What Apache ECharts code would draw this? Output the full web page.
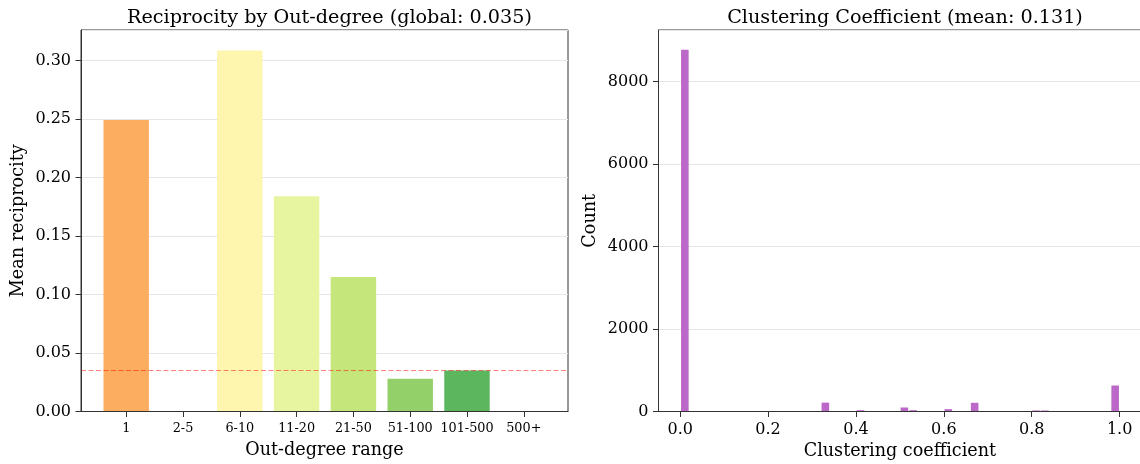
<!DOCTYPE html>
<html>
<head>
<meta charset="utf-8">
<script src="https://cdn.jsdelivr.net/npm/echarts@6/dist/echarts.min.js"></script>
<style>
  html, body { margin: 0; padding: 0; background: #fff; }
  #chart { width: 1140px; height: 464px; }
</style>
</head>
<body>
<div id="chart"></div>
<script>
// left panel: reciprocity per out-degree bucket
const degreeRanges = ['1', '2-5', '6-10', '11-20', '21-50', '51-100', '101-500', '500+']
const meanReciprocity = [0.249, 0, 0.3085, 0.184, 0.115, 0.028, 0.035, 0]
const rangeColors = ['#fdad60', '#fed384', '#fef5ae', '#e8f5a0', '#c4e67b', '#94d06a', '#5cb65e', '#2f9a52']
const globalReciprocity = 0.035

// right panel: histogram of clustering coefficient, 50 bins on [0, 1]
const binWidth = 0.02
const clusteringCounts = [
  8770, 6, 0, 0, 0, 0, 0, 0, 4, 5,
  4, 0, 0, 0, 0, 6, 215, 0, 0, 0,
  32, 3, 4, 5, 4, 97, 32, 0, 8, 4,
  57, 3, 0, 211, 10, 0, 0, 0, 0, 0,
  25, 25, 0, 0, 0, 0, 0, 0, 0, 630
]
const meanClustering = 0.131

const histData = clusteringCounts.map((c, i) => [i * binWidth, (i + 1) * binWidth, c])

const font = 'DejaVu Serif'
const spine = '#333'
const gridLine = '#e6e6e6'
const tickFont = 16
const nameFont = 17.6

const chart = echarts.init(document.getElementById('chart'))

const option = {
  animation: false,
  textStyle: { fontFamily: font, color: '#000' },
  title: [
    {
      text: 'Reciprocity by Out-degree (global: ' + globalReciprocity.toFixed(3) + ')',
      left: 324.5, top: 4, textAlign: 'center',
      textStyle: { fontFamily: font, fontSize: 19.2, fontWeight: 'normal', color: '#000' }
    },
    {
      text: 'Clustering Coefficient (mean: ' + meanClustering.toFixed(3) + ')',
      left: 900, top: 4, textAlign: 'center',
      textStyle: { fontFamily: font, fontSize: 19.2, fontWeight: 'normal', color: '#000' }
    }
  ],
  grid: [
    // 0: left frame
    { left: 81, top: 30, width: 487, height: 381.5, show: true, borderColor: spine, borderWidth: 1, outerBoundsMode: 'none' },
    // 1: left bars (bands line up with the frame's margins)
    { left: 97.8, top: 30, width: 454.4, height: 381.5, outerBoundsMode: 'none' },
    // 2: right frame
    { left: 658.5, top: 30, width: 483, height: 381.5, show: true, borderColor: spine, borderWidth: 1, outerBoundsMode: 'none' },
    // 3: right x ticks, spanning 0..1
    { left: 680.2, top: 30, width: 439.4, height: 381.5, outerBoundsMode: 'none' }
  ],
  xAxis: [
    {
      gridIndex: 0, type: 'value', min: 0, max: 1, z: 5,
      axisLine: { show: true, onZero: false, lineStyle: { color: spine, width: 1 } },
      axisTick: { show: false }, axisLabel: { show: false }, splitLine: { show: false },
      name: 'Out-degree range', nameLocation: 'middle', nameGap: 30,
      nameTextStyle: { fontFamily: font, fontSize: nameFont, color: '#000' }
    },
    {
      gridIndex: 1, type: 'category', data: degreeRanges, z: 5,
      axisLine: { show: false },
      axisTick: { show: true, alignWithLabel: true, interval: 0, length: 5.5, lineStyle: { color: spine } },
      axisLabel: { fontFamily: font, fontSize: 12.8, color: '#000', margin: 11, interval: 0 }
    },
    {
      gridIndex: 2, type: 'value', min: -0.05, max: 1.05, z: 5,
      axisLine: { show: true, onZero: false, lineStyle: { color: spine, width: 1 } },
      axisTick: { show: false }, axisLabel: { show: false }, splitLine: { show: false }
    },
    {
      gridIndex: 3, type: 'value', min: 0, max: 1, interval: 0.2, z: 5,
      axisLine: { show: false },
      axisTick: { show: true, length: 5.5, lineStyle: { color: spine } },
      axisLabel: { fontFamily: font, fontSize: tickFont, color: '#000', margin: 10, formatter: v => v.toFixed(1) },
      splitLine: { show: false },
      name: 'Clustering coefficient', nameLocation: 'middle', nameGap: 30,
      nameTextStyle: { fontFamily: font, fontSize: nameFont, color: '#000' }
    }
  ],
  yAxis: [
    {
      gridIndex: 0, type: 'value', min: 0, max: 0.326, interval: 0.05,
      axisLine: { show: true, onZero: false, lineStyle: { color: spine, width: 1 } },
      axisTick: { show: true, length: 5.5, lineStyle: { color: spine } },
      axisLabel: { fontFamily: font, fontSize: tickFont, color: '#000', margin: 10, showMaxLabel: false, formatter: v => v.toFixed(2) },
      splitLine: { show: true, lineStyle: { color: gridLine, width: 1 } },
      name: 'Mean reciprocity', nameLocation: 'middle', nameGap: 54,
      nameTextStyle: { fontFamily: font, fontSize: nameFont, color: '#000' }
    },
    { gridIndex: 1, type: 'value', min: 0, max: 0.326, show: false },
    {
      gridIndex: 2, type: 'value', min: 0, max: 9250, interval: 2000,
      axisLine: { show: true, onZero: false, lineStyle: { color: spine, width: 1 } },
      axisTick: { show: true, length: 5.5, lineStyle: { color: spine } },
      axisLabel: { fontFamily: font, fontSize: tickFont, color: '#000', margin: 10, showMaxLabel: false, formatter: v => String(v) },
      splitLine: { show: true, lineStyle: { color: gridLine, width: 1 } },
      name: 'Count', nameLocation: 'middle', nameGap: 59,
      nameTextStyle: { fontFamily: font, fontSize: nameFont, color: '#000' }
    },
    { gridIndex: 3, type: 'value', min: 0, max: 9250, show: false }
  ],
  series: [
    {
      type: 'bar', xAxisIndex: 1, yAxisIndex: 1, barWidth: '80%',
      data: meanReciprocity.map((v, i) => ({ value: v, itemStyle: { color: rangeColors[i] } }))
    },
    {
      // global reciprocity reference line across the whole frame
      type: 'line', xAxisIndex: 0, yAxisIndex: 0, silent: true, symbol: 'none', z: 4,
      lineStyle: { color: 'rgba(255,0,0,0.5)', type: [5, 2.5], width: 1 },
      data: [[0, globalReciprocity], [1, globalReciprocity]]
    },
    {
      type: 'custom', xAxisIndex: 2, yAxisIndex: 2,
      encode: { x: [0, 1], y: 2 },
      data: histData,
      renderItem: (params, api) => {
        const p0 = api.coord([api.value(0), 0])
        const p1 = api.coord([api.value(1), api.value(2)])
        const gap = 0.6
        return {
          type: 'rect',
          shape: { x: p0[0] + gap, y: p1[1], width: p1[0] - p0[0] - 2 * gap, height: p0[1] - p1[1] },
          style: { fill: '#bc68c8' }
        }
      }
    }
  ]
}

chart.setOption(option)
</script>
</body>
</html>
